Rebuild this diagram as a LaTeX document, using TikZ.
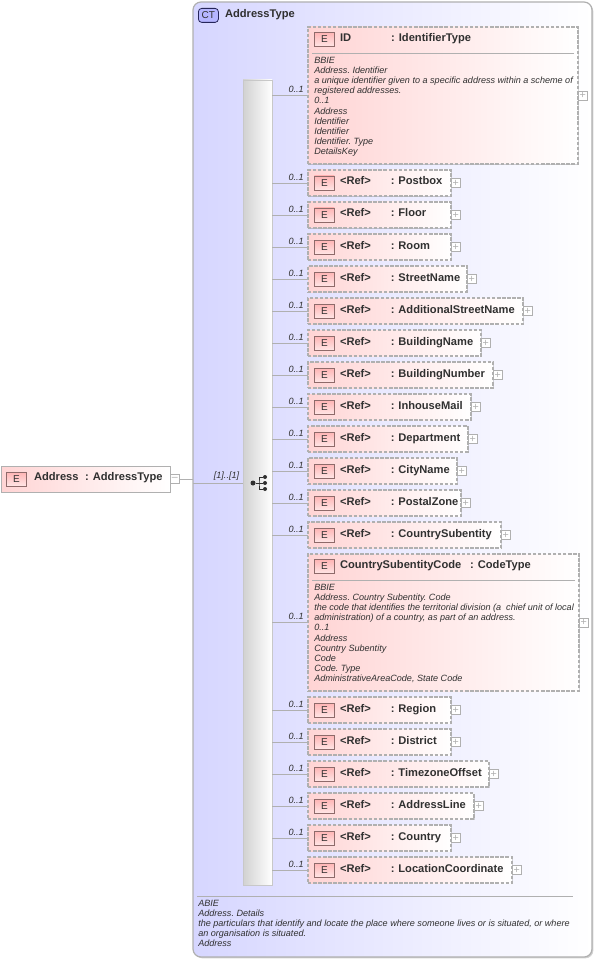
\documentclass[tikz,border=0pt]{standalone}
\usepackage{fontspec}
\setmainfont{Liberation Sans}
\usetikzlibrary{positioning,shadows}
\definecolor{xsblue}{HTML}{D6D6FF}
\definecolor{xspink}{HTML}{FFD4D4}
\definecolor{xsgrey}{HTML}{B0B0B0}
\definecolor{xsbrown}{HTML}{8E6A6A}
\definecolor{xstext}{HTML}{303030}
\newlength{\px}
\setlength{\px}{0.75pt}

\begin{document}
\begin{tikzpicture}[
  x=0.75pt, y=-0.75pt,
  softshadow/.style={drop shadow={shadow xshift=1pt, shadow yshift=-1pt, opacity=0.18, fill=black}},
  ctbox/.style={draw=xsgrey, line width=0.9pt, rounded corners=6pt, left color=xsblue, right color=white,
                inner sep=0pt, outer sep=0pt, anchor=north west, softshadow},
  seqbar/.style={draw=xsgrey!70, line width=0.6pt, left color=black!18, right color=white,
                 inner sep=0pt, outer sep=0pt, anchor=north west, softshadow},
  topbox/.style={draw=xsgrey, line width=0.7pt, left color=xspink, right color=white,
                 inner sep=0pt, outer sep=0pt, anchor=north west, softshadow},
  detailbox/.style={draw=xsgrey, dashed, dash pattern=on 2.6pt off 1.2pt, line width=0.8pt, left color=xspink, right color=white,
                    inner sep=0pt, outer sep=0pt, anchor=north west, softshadow},
  refbox/.style={detailbox, minimum height=26\px, text width=#1\px, align=left, text height=8\px, text depth=4\px,
                 font=\fontsize{8.35}{10}\selectfont\bfseries, text=xstext,
                 execute at begin node={\hspace*{32\px}\makebox[51\px][l]{<Ref>}:\ }},
  under/.style={below=6\px of #1.south west, anchor=north west},
  eicon/.style={draw=xsbrown, line width=0.6pt, top color=xspink!85!red, bottom color=xspink!60, inner sep=0pt,
                minimum width=20\px, minimum height=14\px, font=\fontsize{7.5}{9}\selectfont, text=xstext},
  cticon/.style={draw=xstext!80!blue, line width=0.6pt, rounded corners=2.5pt, fill=xsblue!85!blue, inner sep=0pt,
                 minimum width=20\px, minimum height=14\px, font=\fontsize{7.5}{9}\selectfont, text=xstext},
  head/.style={inner sep=0pt, font=\fontsize{8.35}{10}\selectfont\bfseries, text=xstext},
  desc/.style={inner sep=0pt, align=left, anchor=north west, font=\fontsize{6.8}{7.58}\selectfont\itshape\frenchspacing, text=xstext},
  togglebox/.style={draw=xsgrey, fill=white, line width=0.5pt, inner sep=0pt, minimum size=9\px,
                    font=\fontsize{8}{8}\selectfont, text=xsgrey},
  wire/.style={draw=xsgrey, line width=0.7pt},
  occ/.style={pos=0.67, above=1.7pt, inner sep=0pt, font=\fontsize{6.8}{8}\selectfont\itshape, text=xstext},
  seqdot/.style={circle, fill=xstext, inner sep=0pt, minimum size=#1\px},
  seqline/.style={draw=xstext, line width=0.6pt},
]
  \useasboundingbox (0,0) rectangle (597,959);

  %% Complex type frame with its caption
  \node[ctbox, minimum width=399\px, minimum height=955\px] (ct) at (193,2) {};
  \node[cticon, below right=6\px and 5\px of ct.north west] (cticon) {CT};
  \node[head, right=6\px of cticon, yshift=0.5\px] (cthead) {AddressType};

  %% Root element on the left
  \node[topbox, minimum width=169\px, minimum height=26\px] (addr) at (1,466) {};
  \node[eicon, right=5\px of addr.west] (addrE) {E};
  \node[head, right=7\px of addrE, yshift=1\px] (addrhead) {\makebox[51\px][l]{Address}: AddressType};
  \node[togglebox, right=0pt of addr.east] (addrtoggle) {--};

  %% Sequence bar and its symbol
  \node[seqbar, minimum width=29\px, minimum height=805\px] (seq) at (243,80) {};
  \node[seqdot=5] (seqroot) at (253,483) {};
  \node[seqdot=4] (seqtop) at (265,477) {};
  \node[seqdot=4] (seqmid) at (265,483) {};
  \node[seqdot=4] (seqlow) at (265,489) {};
  \coordinate (seqfork) at (259,483);
  \draw[seqline] (seqroot) -- (seqmid);
  \draw[seqline] (seqtop) -| (seqfork) |- (seqlow);

  %% Link from the root element into the frame
  \coordinate (ctedge) at (193,479);
  \coordinate (ctin) at (193,483);
  \draw[wire] (addrtoggle.east) -- (ctedge);
  \draw[wire] (ctin) -- node[occ] {[1]..[1]} (seq.west |- ctin);

  %% First child with its details
  \node[detailbox, minimum width=270\px, minimum height=137\px] (id) at (308,27) {};
  \node[eicon, below right=5\px and 6\px of id.north west] (idE) {E};
  \node[head, right=5\px of idE, yshift=0.5\px] (idhead) {\makebox[51\px][l]{ID}: IdentifierType};
  \draw[wire] ([xshift=4\px,yshift=-26\px]id.north west) -- ([xshift=-4\px,yshift=-26\px]id.north east);
  \node[desc, below right=30\px and 6\px of id.north west] (iddesc)
    {BBIE\\Address. Identifier\\a unique identifier given to a specific address within a scheme of\\registered addresses.\\0..1\\Address\\Identifier\\Identifier\\Identifier. Type\\DetailsKey};
  \node[togglebox, right=0pt of id.east] (idtoggle) {+};
  \draw[wire] (seq.east |- id.west) -- node[occ] {0..1} (id.west);

  %% Referenced children, top to bottom
  \node[refbox=143, under=id] (postbox) {Postbox};
  \node[eicon, right=6\px of postbox.west] (postboxE) {E};
  \node[togglebox, right=0pt of postbox.east] (postboxtoggle) {+};
  \draw[wire] (seq.east |- postbox.west) -- node[occ] {0..1} (postbox.west);

  \node[refbox=143, under=postbox] (floor) {Floor};
  \node[eicon, right=6\px of floor.west] (floorE) {E};
  \node[togglebox, right=0pt of floor.east] (floortoggle) {+};
  \draw[wire] (seq.east |- floor.west) -- node[occ] {0..1} (floor.west);

  \node[refbox=143, under=floor] (room) {Room};
  \node[eicon, right=6\px of room.west] (roomE) {E};
  \node[togglebox, right=0pt of room.east] (roomtoggle) {+};
  \draw[wire] (seq.east |- room.west) -- node[occ] {0..1} (room.west);

  \node[refbox=159, under=room] (street) {StreetName};
  \node[eicon, right=6\px of street.west] (streetE) {E};
  \node[togglebox, right=0pt of street.east] (streettoggle) {+};
  \draw[wire] (seq.east |- street.west) -- node[occ] {0..1} (street.west);

  \node[refbox=215, under=street] (addstreet) {AdditionalStreetName};
  \node[eicon, right=6\px of addstreet.west] (addstreetE) {E};
  \node[togglebox, right=0pt of addstreet.east] (addstreettoggle) {+};
  \draw[wire] (seq.east |- addstreet.west) -- node[occ] {0..1} (addstreet.west);

  \node[refbox=173, under=addstreet] (bldname) {BuildingName};
  \node[eicon, right=6\px of bldname.west] (bldnameE) {E};
  \node[togglebox, right=0pt of bldname.east] (bldnametoggle) {+};
  \draw[wire] (seq.east |- bldname.west) -- node[occ] {0..1} (bldname.west);

  \node[refbox=185, under=bldname] (bldnum) {BuildingNumber};
  \node[eicon, right=6\px of bldnum.west] (bldnumE) {E};
  \node[togglebox, right=0pt of bldnum.east] (bldnumtoggle) {+};
  \draw[wire] (seq.east |- bldnum.west) -- node[occ] {0..1} (bldnum.west);

  \node[refbox=163, under=bldnum] (inhouse) {InhouseMail};
  \node[eicon, right=6\px of inhouse.west] (inhouseE) {E};
  \node[togglebox, right=0pt of inhouse.east] (inhousetoggle) {+};
  \draw[wire] (seq.east |- inhouse.west) -- node[occ] {0..1} (inhouse.west);

  \node[refbox=160, under=inhouse] (dept) {Department};
  \node[eicon, right=6\px of dept.west] (deptE) {E};
  \node[togglebox, right=0pt of dept.east] (depttoggle) {+};
  \draw[wire] (seq.east |- dept.west) -- node[occ] {0..1} (dept.west);

  \node[refbox=149, under=dept] (city) {CityName};
  \node[eicon, right=6\px of city.west] (cityE) {E};
  \node[togglebox, right=0pt of city.east] (citytoggle) {+};
  \draw[wire] (seq.east |- city.west) -- node[occ] {0..1} (city.west);

  \node[refbox=153, under=city] (zone) {PostalZone};
  \node[eicon, right=6\px of zone.west] (zoneE) {E};
  \node[togglebox, right=0pt of zone.east] (zonetoggle) {+};
  \draw[wire] (seq.east |- zone.west) -- node[occ] {0..1} (zone.west);

  \node[refbox=193, under=zone] (subent) {CountrySubentity};
  \node[eicon, right=6\px of subent.west] (subentE) {E};
  \node[togglebox, right=0pt of subent.east] (subenttoggle) {+};
  \draw[wire] (seq.east |- subent.west) -- node[occ] {0..1} (subent.west);

  %% Second child with details
  \node[detailbox, under=subent, minimum width=271\px, minimum height=137\px] (code) {};
  \node[eicon, below right=5\px and 6\px of code.north west] (codeE) {E};
  \node[head, right=5\px of codeE, yshift=0.5\px] (codehead) {\makebox[130\px][l]{CountrySubentityCode}: CodeType};
  \draw[wire] ([xshift=4\px,yshift=-26\px]code.north west) -- ([xshift=-4\px,yshift=-26\px]code.north east);
  \node[desc, below right=30\px and 6\px of code.north west] (codedesc)
    {BBIE\\Address. Country Subentity. Code\\the code that identifies the territorial division (a\ \ chief unit of local\\administration) of a country, as part of an address.\\0..1\\Address\\Country Subentity\\Code\\Code. Type\\AdministrativeAreaCode, State Code};
  \node[togglebox, right=0pt of code.east] (codetoggle) {+};
  \draw[wire] (seq.east |- code.west) -- node[occ] {0..1} (code.west);

  \node[refbox=143, under=code] (region) {Region};
  \node[eicon, right=6\px of region.west] (regionE) {E};
  \node[togglebox, right=0pt of region.east] (regiontoggle) {+};
  \draw[wire] (seq.east |- region.west) -- node[occ] {0..1} (region.west);

  \node[refbox=143, under=region] (district) {District};
  \node[eicon, right=6\px of district.west] (districtE) {E};
  \node[togglebox, right=0pt of district.east] (districttoggle) {+};
  \draw[wire] (seq.east |- district.west) -- node[occ] {0..1} (district.west);

  \node[refbox=181, under=district] (tzone) {TimezoneOffset};
  \node[eicon, right=6\px of tzone.west] (tzoneE) {E};
  \node[togglebox, right=0pt of tzone.east] (tzonetoggle) {+};
  \draw[wire] (seq.east |- tzone.west) -- node[occ] {0..1} (tzone.west);

  \node[refbox=166, under=tzone] (line) {AddressLine};
  \node[eicon, right=6\px of line.west] (lineE) {E};
  \node[togglebox, right=0pt of line.east] (linetoggle) {+};
  \draw[wire] (seq.east |- line.west) -- node[occ] {0..1} (line.west);

  \node[refbox=143, under=line] (country) {Country};
  \node[eicon, right=6\px of country.west] (countryE) {E};
  \node[togglebox, right=0pt of country.east] (countrytoggle) {+};
  \draw[wire] (seq.east |- country.west) -- node[occ] {0..1} (country.west);

  \node[refbox=204, under=country] (coord) {LocationCoordinate};
  \node[eicon, right=6\px of coord.west] (coordE) {E};
  \node[togglebox, right=0pt of coord.east] (coordtoggle) {+};
  \draw[wire] (seq.east |- coord.west) -- node[occ] {0..1} (coord.west);

  %% Frame footer
  \coordinate (footleft) at (197,896);
  \coordinate (footright) at (573,896);
  \draw[wire] (footleft) -- (footright);
  \node[desc, below right=4\px and 1\px of footleft] (ctdesc)
    {ABIE\\Address. Details\\the particulars that identify and locate the place where someone lives or is situated, or where\\an organisation is situated.\\Address};

\end{tikzpicture}
\end{document}
